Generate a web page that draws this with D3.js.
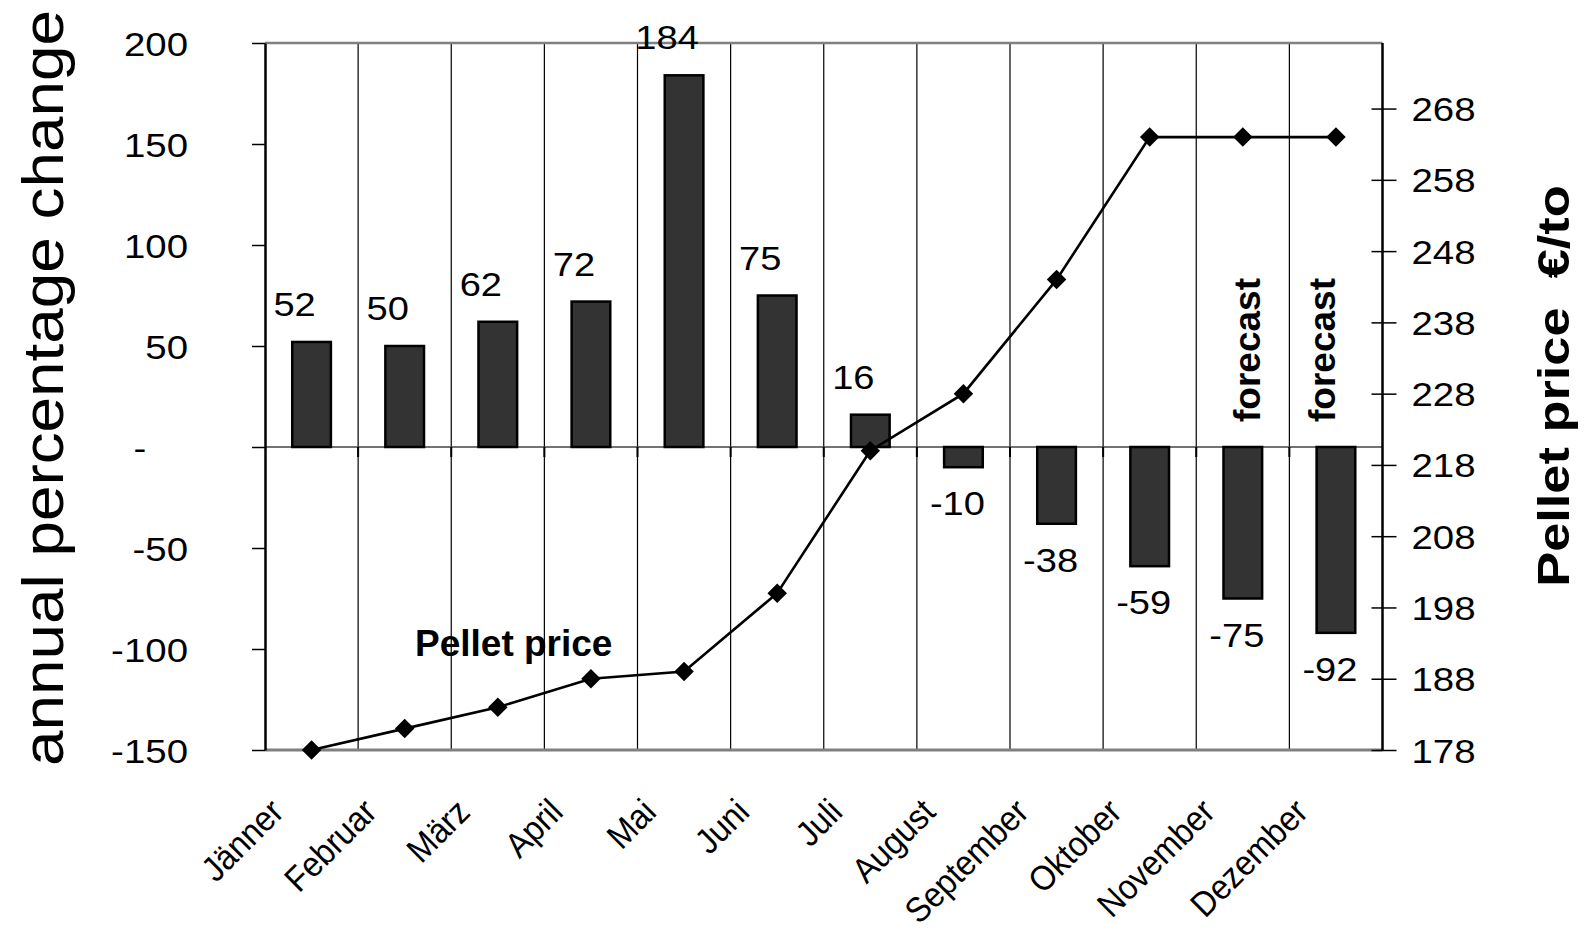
<!DOCTYPE html>
<html>
<head>
<meta charset="utf-8">
<script src="https://cdn.jsdelivr.net/npm/d3@7"></script>
<style>
  html, body { margin: 0; padding: 0; background: #fff; }
  svg { display: block; }
  text { font-family: "Liberation Sans", Arial, sans-serif; fill: #000; white-space: pre; }
</style>
</head>
<body>
<svg id="chart" width="1588" height="932"></svg>
<script>
// ---- data ----
const months = ["Jänner","Februar","März","April","Mai","Juni","Juli","August","September","Oktober","November","Dezember"];
const pctChange = [52, 50, 62, 72, 184, 75, 16, -10, -38, -59, -75, -92];
const pelletPrice = [178, 181, 184, 188, 189, 200, 220, 228, 244, 264, 264, 264];
const leftTicks = [200, 150, 100, 50, 0, -50, -100, -150];
const rightTicks = [178, 188, 198, 208, 218, 228, 238, 248, 258, 268];
const forecastMonths = ["November", "Dezember"];
const leftTitle = "annual percentage change";
const rightTitle = "Pellet price  €/to";
const lineLabel = "Pellet price";
const forecastLabel = "forecast";

// ---- layout ----
const L = 265, R = 1382.5, T = 43, B = 750;
const svg = d3.select("#chart");

const x = d3.scaleBand().domain(months).range([L, R]).padding(0);
const yL = d3.scaleLinear().domain([-150, 200]).range([B, T]);
const yR = d3.scaleLinear().domain([178, 277.2]).range([B, T]);
const cx = m => x(m) + x.bandwidth() / 2;

function txt(g, s, px, py, o) {
  return g.append("text")
    .attr("xml:space", "preserve")
    .attr("transform", `translate(${px},${py}) rotate(${o.rot || 0}) scale(${o.sx || 1},1)`)
    .attr("text-anchor", o.anchor || "start")
    .style("font-size", o.size + "px")
    .style("font-weight", o.weight || "normal")
    .text(s);
}

// vertical gridlines (category boundaries)
const bounds = months.slice(1).map(m => x(m));
svg.append("g").selectAll("line").data(bounds).join("line")
  .attr("x1", d => d).attr("x2", d => d).attr("y1", T).attr("y2", B)
  .attr("stroke", "#000").attr("stroke-width", 1.2);

// top & bottom plot borders (gray)
svg.append("line").attr("x1", L).attr("x2", R).attr("y1", T).attr("y2", T)
  .attr("stroke", "#808080").attr("stroke-width", 2.5);
svg.append("line").attr("x1", L).attr("x2", R).attr("y1", B).attr("y2", B)
  .attr("stroke", "#808080").attr("stroke-width", 3);

// zero line + category ticks
svg.append("line").attr("x1", L).attr("x2", R).attr("y1", yL(0)).attr("y2", yL(0))
  .attr("stroke", "#444").attr("stroke-width", 1.3);
svg.append("g").selectAll("line").data(bounds).join("line")
  .attr("x1", d => d).attr("x2", d => d).attr("y1", yL(0)).attr("y2", yL(0) + 10)
  .attr("stroke", "#000").attr("stroke-width", 2);

// bars
const bw = x.bandwidth() * 0.415;
const barData = months.map((m, i) => ({ m, v: pctChange[i] }));
svg.append("g").selectAll("rect").data(barData).join("rect")
  .attr("x", d => cx(d.m) - bw / 2)
  .attr("y", d => yL(Math.max(0, d.v)))
  .attr("width", bw)
  .attr("height", d => Math.abs(yL(d.v) - yL(0)))
  .attr("fill", "#333333").attr("stroke", "#000").attr("stroke-width", 2.5);

// bar value labels
const gl = svg.append("g");
barData.forEach(d => {
  if (d.v >= 0) txt(gl, String(d.v), cx(d.m) - 17, yL(d.v) - 26, { size: 34, anchor: "middle", sx: 1.12 });
  else txt(gl, String(d.v), cx(d.m) - 6, yL(d.v) + 48, { size: 34, anchor: "middle", sx: 1.12 });
});

// left axis
const axL = svg.append("g").attr("transform", `translate(${L},0)`)
  .call(d3.axisLeft(yL).tickValues(leftTicks).tickSize(13).tickSizeOuter(0)
    .tickFormat(d => d === 0 ? "-" : String(d)));
axL.select(".domain").attr("stroke", "#000").attr("stroke-width", 2.5);
axL.selectAll(".tick line").attr("stroke", "#000").attr("stroke-width", 1.5);
axL.selectAll(".tick text")
  .attr("x", null).attr("dy", null).attr("fill", "#000")
  .attr("font-family", null).attr("font-size", null)
  .style("font-size", "34px")
  .each(function(d) {
    const t = d3.select(this);
    if (d === 0) t.attr("text-anchor", "middle").attr("transform", "translate(-125,12) scale(1.13,1)");
    else t.attr("text-anchor", "end").attr("transform", "translate(-77,12) scale(1.13,1)");
  });

// right axis
const axR = svg.append("g").attr("transform", `translate(${R},0)`)
  .call(d3.axisRight(yR).tickValues(rightTicks).tickSize(14).tickSizeOuter(0));
axR.select(".domain").attr("stroke", "#000").attr("stroke-width", 2.5)
  .attr("d", `M0,${T}V${B}`);
axR.selectAll(".tick line").attr("x1", -11).attr("stroke", "#000").attr("stroke-width", 1.5);
axR.selectAll(".tick text")
  .attr("x", null).attr("dy", null).attr("fill", "#000")
  .attr("font-family", null).attr("font-size", null)
  .style("font-size", "34px")
  .attr("text-anchor", "start")
  .attr("transform", "translate(29,12) scale(1.13,1)");

// price line
const lineData = months.map((m, i) => ({ m, v: pelletPrice[i] }));
svg.append("path").datum(lineData)
  .attr("d", d3.line().x(d => cx(d.m)).y(d => yR(d.v)))
  .attr("fill", "none").attr("stroke", "#000").attr("stroke-width", 2.6);
svg.append("g").selectAll("path").data(lineData).join("path")
  .attr("d", d3.symbol(d3.symbolSquare, 190))
  .attr("transform", d => `translate(${cx(d.m)},${yR(d.v)}) rotate(45)`)
  .attr("fill", "#000");

// x labels
const gx = svg.append("g");
months.forEach(m => txt(gx, m, cx(m) - 26, 814, { size: 35, anchor: "end", rot: -45, sx: 0.92 }));

// annotations
txt(svg, lineLabel, 415, 656, { size: 37, weight: "bold" });
const fOff = [17, -1];
forecastMonths.forEach((m, i) =>
  txt(svg, forecastLabel, cx(m) + fOff[i], 350, { size: 37, weight: "bold", anchor: "middle", rot: -90 }));

// axis titles
txt(svg, leftTitle, 63, 388, { size: 57, anchor: "middle", rot: -90, sx: 1.12 });
txt(svg, rightTitle, 1569, 386, { size: 44, weight: "bold", anchor: "middle", rot: -90, sx: 1.19 });
</script>
</body>
</html>
